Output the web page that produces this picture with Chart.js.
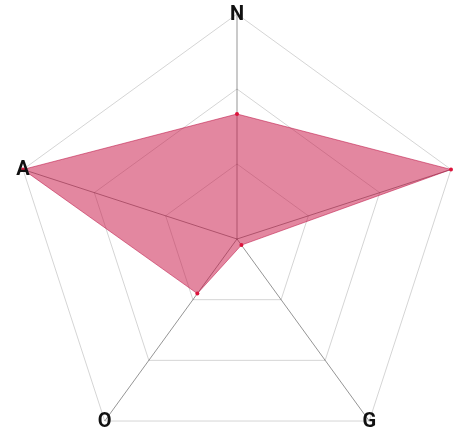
<!DOCTYPE html>
<html>
<head>
<meta charset="utf-8">
<script src="https://cdn.jsdelivr.net/npm/chart.js@4"></script>
<style>
    html, body {
        margin: 0;
        padding: 0;
        overflow: hidden;
        background: #ffffff;
    }
    #chart-box {
        position: relative;
        width: 474px;
        height: 478px;
    }
</style>
</head>
<body>
<div id="chart-box">
    <canvas id="radarChart"></canvas>
</div>
<script>
// Axis labels (the right-hand axis carries no label)
const axisLabels = ['N', '', 'G', 'O', 'A'];

// Series values, one per axis
const scores = [5, 9, 0.3, 2.7, 9];

// Scale range and ring step
const scaleMax = 9;
const scaleStep = 3;

// Draw the axis letters centred on the outer corners of the web
const cornerLabels = {
    id: 'cornerLabels',
    afterDatasetsDraw(chart) {
        const scale = chart.scales.r;
        const ctx = chart.ctx;
        ctx.save();
        ctx.font = 'bold 20px Roboto';
        ctx.fillStyle = '#111111';
        ctx.textAlign = 'center';
        ctx.textBaseline = 'middle';
        axisLabels.forEach((label, i) => {
            if (!label) return;
            const pos = scale.getPointPositionForValue(i, scaleMax);
            ctx.fillText(label, pos.x, pos.y + 1);
        });
        ctx.restore();
    }
};

document.addEventListener('DOMContentLoaded', () => {
    const ctx = document.getElementById('radarChart').getContext('2d');
    new Chart(ctx, {
        type: 'radar',
        data: {
            labels: axisLabels,
            datasets: [{
                data: scores,
                backgroundColor: 'rgba(200, 15, 65, 0.5)',
                borderColor: 'rgba(190, 20, 70, 0.55)',
                borderWidth: 1,
                pointRadius: 2,
                pointBorderWidth: 0,
                pointBackgroundColor: 'rgb(220, 20, 60)',
                fill: true
            }]
        },
        options: {
            responsive: true,
            maintainAspectRatio: false,
            animation: false,
            layout: {
                padding: { left: 12, right: 12, top: 14, bottom: 14 }
            },
            scales: {
                r: {
                    min: 0,
                    max: scaleMax,
                    ticks: {
                        display: false,
                        stepSize: scaleStep
                    },
                    pointLabels: {
                        display: false
                    },
                    grid: {
                        color: 'rgba(0, 0, 0, 0.17)',
                        lineWidth: 1
                    },
                    angleLines: {
                        color: 'rgba(0, 0, 0, 0.42)',
                        lineWidth: 1
                    }
                }
            },
            plugins: {
                legend: { display: false },
                tooltip: { enabled: false }
            }
        },
        plugins: [cornerLabels]
    });
});
</script>
</body>
</html>
